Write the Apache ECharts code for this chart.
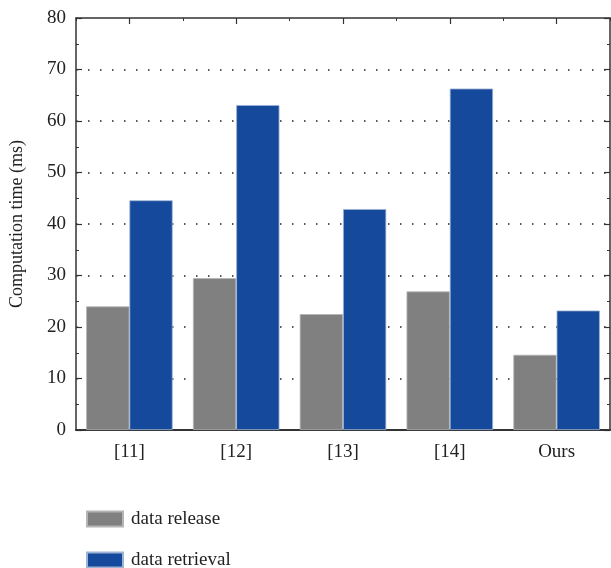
<!DOCTYPE html>
<html>
<head>
<meta charset="utf-8">
<script src="https://cdn.jsdelivr.net/npm/echarts@6/dist/echarts.min.js"></script>
<style>
  html, body { margin: 0; padding: 0; background: #fff; }
  #container { width: 611px; height: 568px; }
</style>
</head>
<body>
<div id="container"></div>
<script>
const categories = ['[11]', '[12]', '[13]', '[14]', 'Ours'];
const releaseTimes = [24.0, 29.5, 22.5, 26.9, 14.6];
const retrievalTimes = [44.6, 63.1, 42.9, 66.3, 23.2];
const seriesNames = ['data release', 'data retrieval'];

const font = 'Liberation Serif';
const axisColor = '#333';

const dom = document.getElementById('container');
const chart = echarts.init(dom, null, { renderer: 'canvas' });

// shared look of the y axes (left one has labels, right one mirrors ticks)
const yBase = {
    type: 'value',
    min: 0,
    max: 80,
    interval: 10,
    axisLine: { show: true, onZero: false, lineStyle: { color: axisColor, width: 1.5 } },
    axisTick: { show: true, inside: true, length: 6, lineStyle: { color: axisColor, width: 1.2 } },
    minorTick: { show: true, splitNumber: 2, length: 3, lineStyle: { color: axisColor, width: 1 } }
};

// one legend per row, stacked under the chart
function legendRow(name, top) {
    return {
        left: 86,
        top: top,
        padding: 0,
        itemWidth: 36,
        itemHeight: 15,
        icon: 'rect',
        textStyle: { fontFamily: font, fontSize: 19, lineHeight: 20, color: '#222', padding: [0, 0, 0, 3] },
        data: [name]
    };
}

chart.setOption({
    animation: false,
    backgroundColor: '#fff',
    grid: { left: 76, right: 1, top: 18, bottom: 138, containLabel: false },
    legend: [legendRow(seriesNames[0], 509), legendRow(seriesNames[1], 550)],
    xAxis: [
        {
            type: 'category',
            position: 'bottom',
            data: categories,
            axisLine: { show: true, onZero: false, lineStyle: { color: axisColor, width: 2 } },
            axisTick: { show: false },
            axisLabel: { fontFamily: font, fontSize: 19, color: '#222', margin: 13 }
        },
        {
            type: 'category',
            position: 'top',
            data: categories,
            axisLine: { show: true, onZero: false, lineStyle: { color: axisColor, width: 1.5 } },
            axisTick: { show: true, inside: true, alignWithLabel: true, length: 6, lineStyle: { color: axisColor, width: 1.2 } },
            axisLabel: { show: false }
        },
        {
            type: 'category',
            position: 'top',
            data: categories,
            axisLine: { show: false, onZero: false },
            axisTick: { show: true, inside: true, length: 3, lineStyle: { color: axisColor, width: 1 } },
            axisLabel: { show: false }
        }
    ],
    yAxis: [
        Object.assign({}, yBase, {
            position: 'left',
            name: 'Computation time (ms)',
            nameLocation: 'middle',
            nameGap: 50,
            nameTextStyle: { fontFamily: font, fontSize: 18, color: '#222' },
            axisLabel: { fontFamily: font, fontSize: 19, color: '#222', margin: 10 },
            splitLine: {
                show: true,
                showMinLine: false,
                showMaxLine: false,
                lineStyle: { color: '#222', width: 1.5, type: [1.5, 10.5] }
            }
        }),
        Object.assign({}, yBase, {
            position: 'right',
            axisLabel: { show: false },
            splitLine: { show: false }
        })
    ],
    series: [
        {
            name: seriesNames[0],
            type: 'bar',
            data: releaseTimes,
            barGap: '0%',
            barCategoryGap: '19%',
            itemStyle: { color: '#808080', borderColor: '#b4b4b4', borderWidth: 0.8 }
        },
        {
            name: seriesNames[1],
            type: 'bar',
            data: retrievalTimes,
            itemStyle: { color: '#15499b', borderColor: '#9fb3d6', borderWidth: 0.8 }
        }
    ]
});
</script>
</body>
</html>
